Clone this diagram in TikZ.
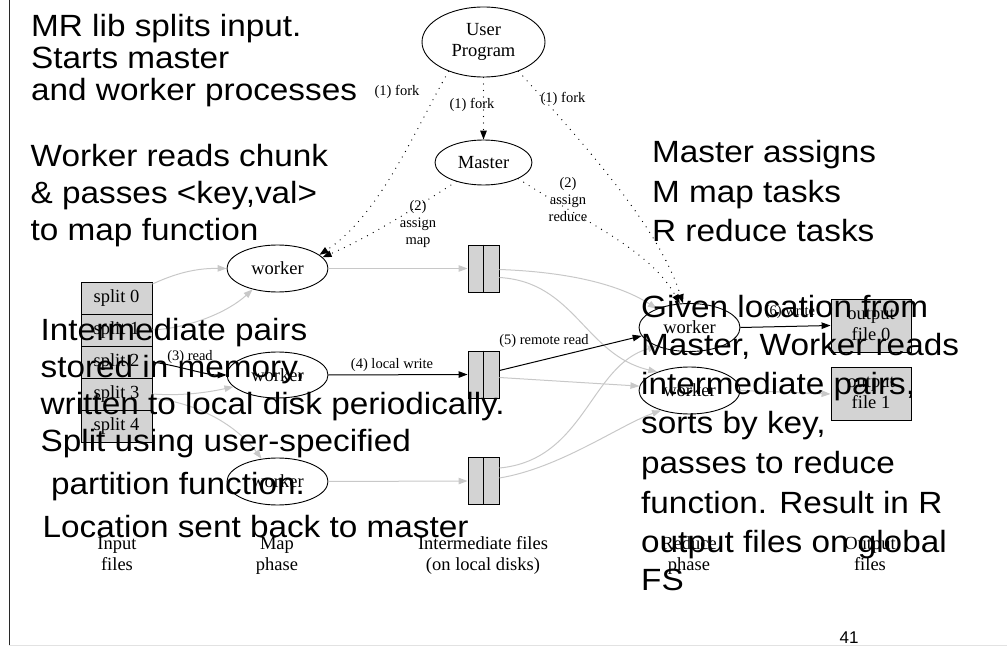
\documentclass[tikz,border=0pt]{standalone}
\usepackage{fontspec}
\setmainfont{Liberation Serif}
\newfontfamily\slidefont[FakeStretch=1.085]{Liberation Sans}
\newfontfamily\pagefont{Liberation Sans}
\usetikzlibrary{shapes.geometric,arrows.meta}

\definecolor{boxfill}{RGB}{211,211,211}
\definecolor{flow}{RGB}{200,200,200}
\definecolor{rulegray}{RGB}{226,226,226}
\definecolor{frameline}{RGB}{40,40,40}

\begin{document}
\begin{tikzpicture}[x=1pt,y=-1pt,
  big/.style={font=\slidefont\fontsize{30.7}{34}\selectfont, anchor=base west, inner sep=0pt},
  proc/.style={ellipse, draw, line width=0.9pt, minimum width=101pt, minimum height=47pt,
    inner sep=0pt, align=center, font=\fontsize{18.5}{21}\selectfont},
  splitcell/.style={rectangle, draw, fill=boxfill, line width=0.9pt, minimum width=71pt,
    minimum height=32pt, inner sep=0pt, font=\fontsize{18.5}{21}\selectfont},
  inter/.style={rectangle, draw, fill=boxfill, line width=0.9pt, minimum width=31pt,
    minimum height=47pt, inner sep=0pt},
  outfile/.style={rectangle, draw, fill=boxfill, line width=0.9pt, minimum width=80pt,
    minimum height=53pt, inner sep=0pt, align=center, font=\fontsize{18.5}{21}\selectfont},
  caption/.style={align=center, inner sep=0pt, font=\fontsize{18.5}{21}\selectfont},
  elabel/.style={align=center, inner sep=0pt, font=\fontsize{14.5}{17}\selectfont},
  flowline/.style={draw=flow, line width=1pt, -{Triangle[length=9pt,width=6.5pt]}},
  ctrl/.style={draw=black, line width=1pt, -{Triangle[length=9pt,width=6.5pt]}},
  cmd/.style={draw=black, line width=1.3pt, line cap=round, dash pattern=on 0pt off 6.5pt,
    -{Triangle[length=9pt,width=6.5pt]}},
]
\useasboundingbox (0,0) rectangle (1007,647);

% slide frame
\draw[frameline, line width=1pt] (9,0) -- (9,645);
\draw[rulegray, line width=1.2pt] (9,645.6) -- (1007,645.6);

% processes
\node[proc, minimum width=123pt, minimum height=70pt] (user) at (483.5,42) {User\strut\\Program\strut};
\node[proc, minimum width=97pt, minimum height=45pt] (master) at (483.5,162.5) {Master};
\node[proc] (w1) at (277.5,268.5) {worker};
\node[proc, minimum height=46pt] (w2) at (277.5,375) {worker};
\node[proc] (w3) at (277.5,481.5) {worker};
\node[proc, minimum height=48pt] (rw1) at (689.5,327.5) {worker};
\node[proc] (rw2) at (689.5,390.5) {worker};

% input splits
\node[splitcell] (s0) at (116.5,298) {split 0};
\node[splitcell] (s1) at (116.5,330) {split 1};
\node[splitcell] (s2) at (116.5,362) {split 2};
\node[splitcell] (s3) at (116.5,394) {split 3};
\node[splitcell] (s4) at (116.5,426) {split 4};

% intermediate files
\node[inter] (i1) at (483.5,268.5) {};
\node[inter] (i2) at (483.5,374.5) {};
\node[inter] (i3) at (483.5,481) {};
\foreach \f in {i1,i2,i3} \draw[line width=0.9pt] (\f.north) -- (\f.south);

% output files
\node[outfile] (o0) at (871,325.5) {output\strut\\file 0\strut};
\node[outfile] (o1) at (871,394) {output\strut\\file 1\strut};

% reading the splits
\draw[flowline] ([yshift=14pt]s0.east) .. controls (168,277) and (190,268) .. (w1.west);
\draw[flowline] (s1.east) .. controls (190,328) and (228,312) .. (w1.-140);
\draw[flowline] (s3.east) .. controls (180,396) and (205,393) .. (w2.-165);
\draw[flowline] ([yshift=-4pt]s3.east) .. controls (205,404) and (240,430) .. (w3.125);
\draw[ctrl] (s2.east) .. controls (180,366) and (205,375) .. (w2.west);

% map output
\draw[flowline] (w1.east) -- (i1.west);
\draw[ctrl] (w2.east) -- (i2.west);
\draw[flowline] (w3.east) -- (i3.west);

% shuffle
\draw[flowline] ([yshift=-1pt]i1.east) .. controls (570,272) and (620,285) .. (rw1.150);
\draw[flowline] ([yshift=-9pt]i1.east) .. controls (575,282) and (585,355) .. (rw2.150);
\draw[flowline] ([yshift=-3pt]i2.east) -- (rw2.175);
\draw[flowline] ([yshift=13pt]i3.east) .. controls (585,460) and (590,365) .. (rw1.210);
\draw[flowline] ([yshift=3pt]i3.east) .. controls (560,468) and (620,425) .. (rw2.215);
\draw[ctrl] ([yshift=4pt]i2.east) -- (rw1.190);

% reduce output
\draw[ctrl] (rw1.east) -- (o0.west);
\draw[flowline] (rw2.east) -- (o1.west);

% control messages
\draw[cmd] (user) -- (master);
\draw[cmd] (user.-140) .. controls (415,130) and (380,215) .. (w1.18);
\draw[cmd] (master.-145) .. controls (420,205) and (370,237) .. (w1.14);
\draw[cmd] (user.-40) .. controls (590,150) and (660,230) .. (rw1.105);
\draw[cmd] (master.-25) .. controls (590,225) and (650,250) .. (rw1.112);

% edge labels
\node[elabel] (lfork1) at (397,92) {(1) fork};
\node[elabel] (lfork2) at (472,105) {(1) fork};
\node[elabel] (lfork3) at (563,99) {(1) fork};
\node[elabel] (lmap) at (418,224) {(2)\strut\\assign\strut\\map\strut};
\node[elabel] (lreduce) at (568,201) {(2)\strut\\assign\strut\\reduce\strut};
\node[elabel] (lread) at (190,357) {(3) read};
\node[elabel] (lwrite) at (392,365) {(4) local write};
\node[elabel] (lremote) at (544,341) {(5) remote read};
\node[elabel] (lout) at (790,312) {(6) write};

% phase captions
\node[caption] (cin) at (117,556) {Input\strut\\files\strut};
\node[caption] (cmap) at (277,556) {Map\strut\\phase\strut};
\node[caption] (cint) at (483,556) {Intermediate files\strut\\(on local disks)\strut};
\node[caption] (cred) at (689,556) {Reduce\strut\\phase\strut};
\node[caption] (cout) at (870,556) {Output\strut\\files\strut};

% slide notes
\node[big] (n1a) at (31,37) {MR lib splits input.};
\node[big] (n1b) at (31,69) {Starts master};
\node[big] (n1c) at (31,101) {and worker processes};

\node[big] (n2a) at (30.5,167) {Worker reads chunk};
\node[big] (n2b) at (30.5,204) {\& passes <key,val>};
\node[big] (n2c) at (30.5,241) {to map function};

\node[big] (n3a) at (652,163) {Master assigns};
\node[big] (n3b) at (652,203) {M map tasks};
\node[big] (n3c) at (652,242) {R reduce tasks};

\node[big] (n4a) at (40.5,340) {Intermediate pairs};
\node[big] (n4b) at (40.5,377) {stored in memory,};
\node[big] (n4c) at (40.5,414) {written to local disk periodically.};
\node[big] (n4d) at (40.5,451) {Split using user-specified};
\node[big] (n4e) at (51,494) {partition function.};
\node[big] (n4f) at (42.5,537) {Location sent back to master};

\node[big] (n5a) at (641,317) {Given location from};
\node[big] (n5b) at (641,355) {Master, Worker reads};
\node[big] (n5c) at (641,394) {intermediate pairs,};
\node[big] (n5d) at (641,433) {sorts by key,};
\node[big] (n5e) at (641,473) {passes to reduce};
\node[big] (n5f) at (641,513) {function. Result in R};
\node[big] (n5g) at (641,552) {output files on global};
\node[big] (n5h) at (641,590) {FS};

% slide number
\node[font=\pagefont\fontsize{17}{20}\selectfont, inner sep=0pt] (pnum) at (849,638) {41};
\end{tikzpicture}
\end{document}
